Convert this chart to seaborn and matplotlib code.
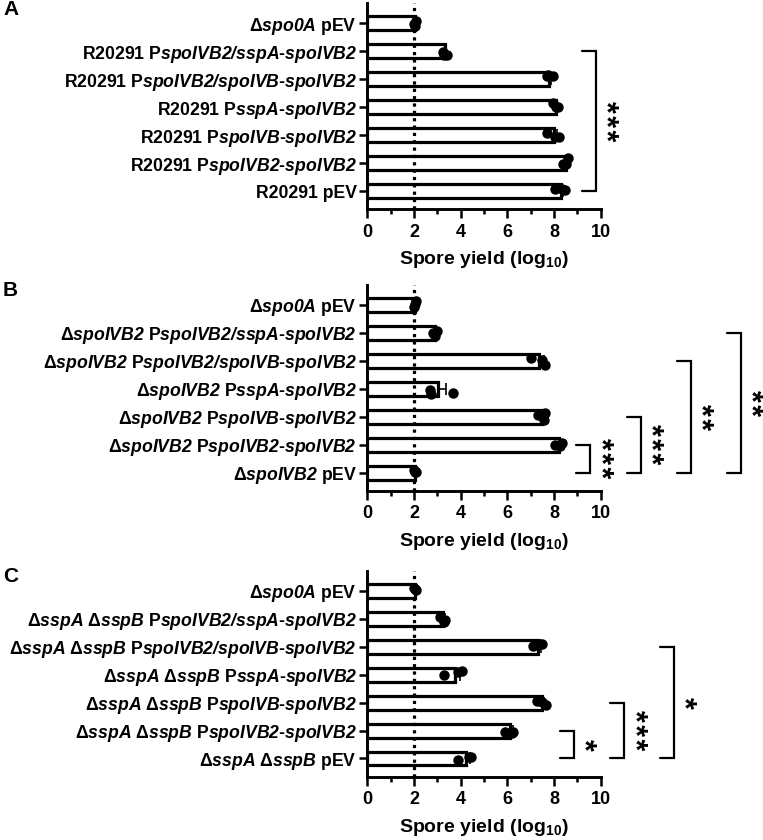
import numpy as np
import pandas as pd
import matplotlib
matplotlib.use("Agg")
import matplotlib.pyplot as plt
import seaborn as sns

sns.set_style("ticks")
plt.rcParams["font.family"] = ["Liberation Sans", "DejaVu Sans"]
plt.rcParams["font.weight"] = "bold"
plt.rcParams["axes.labelweight"] = "bold"
plt.rcParams["text.color"] = "black"
plt.rcParams["axes.labelcolor"] = "black"
plt.rcParams["axes.edgecolor"] = "black"
plt.rcParams["xtick.color"] = "black"
plt.rcParams["ytick.color"] = "black"
plt.rcParams["mathtext.fontset"] = "custom"
plt.rcParams["mathtext.rm"] = "Liberation Sans:bold"
plt.rcParams["mathtext.bf"] = "Liberation Sans:bold"
# gene names: bold italic, digits included
plt.rcParams["mathtext.sf"] = "Liberation Sans:italic:bold"

# ---- data (log10 spore yield, 3 replicates per strain) ----
labels_a = [
    r"Δ$\mathsf{spo0A}$ pEV",
    r"R20291 P$\mathsf{spoIVB2/sspA}$-$\mathsf{spoIVB2}$",
    r"R20291 P$\mathsf{spoIVB2/spoIVB}$-$\mathsf{spoIVB2}$",
    r"R20291 P$\mathsf{sspA}$-$\mathsf{spoIVB2}$",
    r"R20291 P$\mathsf{spoIVB}$-$\mathsf{spoIVB2}$",
    r"R20291 P$\mathsf{spoIVB2}$-$\mathsf{spoIVB2}$",
    "R20291 pEV",
]
values_a = [
    [2.0, 2.05, 2.1],
    [3.25, 3.4, 3.3],
    [7.7, 7.95, 7.75],
    [8.1, 7.95, 8.15],
    [8.05, 7.7, 8.2],
    [8.5, 8.6, 8.4],
    [8.35, 8.45, 8.05],
]

labels_b = [
    r"Δ$\mathsf{spo0A}$ pEV",
    r"Δ$\mathsf{spoIVB2}$ P$\mathsf{spoIVB2/sspA}$-$\mathsf{spoIVB2}$",
    r"Δ$\mathsf{spoIVB2}$ P$\mathsf{spoIVB2/spoIVB}$-$\mathsf{spoIVB2}$",
    r"Δ$\mathsf{spoIVB2}$ P$\mathsf{sspA}$-$\mathsf{spoIVB2}$",
    r"Δ$\mathsf{spoIVB2}$ P$\mathsf{spoIVB}$-$\mathsf{spoIVB2}$",
    r"Δ$\mathsf{spoIVB2}$ P$\mathsf{spoIVB2}$-$\mathsf{spoIVB2}$",
    r"Δ$\mathsf{spoIVB2}$ pEV",
]
values_b = [
    [2.0, 2.05, 2.1],
    [2.8, 2.9, 3.0],
    [7.0, 7.5, 7.6],
    [2.75, 2.7, 3.68],
    [7.55, 7.3, 7.6],
    [8.25, 8.05, 8.35],
    [2.0, 2.05, 2.1],
]

labels_c = [
    r"Δ$\mathsf{spo0A}$ pEV",
    r"Δ$\mathsf{sspA}$ Δ$\mathsf{sspB}$ P$\mathsf{spoIVB2/sspA}$-$\mathsf{spoIVB2}$",
    r"Δ$\mathsf{sspA}$ Δ$\mathsf{sspB}$ P$\mathsf{spoIVB2/spoIVB}$-$\mathsf{spoIVB2}$",
    r"Δ$\mathsf{sspA}$ Δ$\mathsf{sspB}$ P$\mathsf{sspA}$-$\mathsf{spoIVB2}$",
    r"Δ$\mathsf{sspA}$ Δ$\mathsf{sspB}$ P$\mathsf{spoIVB}$-$\mathsf{spoIVB2}$",
    r"Δ$\mathsf{sspA}$ Δ$\mathsf{sspB}$ P$\mathsf{spoIVB2}$-$\mathsf{spoIVB2}$",
    r"Δ$\mathsf{sspA}$ Δ$\mathsf{sspB}$ pEV",
]
values_c = [
    [2.0, 2.05, 2.1],
    [3.3, 3.35, 3.1],
    [7.4, 7.1, 7.5],
    [3.9, 3.3, 4.05],
    [7.5, 7.25, 7.65],
    [6.2, 5.9, 6.25],
    [4.35, 3.9, 4.45],
]

# significance brackets: (first row, last row, stars)
brackets_a = [(1, 6, "***")]
brackets_b = [(5, 6, "***"), (4, 6, "***"), (2, 6, "**"), (1, 6, "**")]
brackets_c = [(5, 6, "*"), (4, 6, "***"), (2, 6, "*")]

panels = [
    ("A", labels_a, values_a, brackets_a, 9.2, 0.7508),
    ("B", labels_b, values_b, brackets_b, 8.96, 0.4158),
    ("C", labels_c, values_c, brackets_c, 8.26, 0.0754),
]

np.random.seed(3)
fig = plt.figure(figsize=(7.63, 8.4), dpi=100)

for letter, labels, values, brackets, br_start, bottom in panels:
    ax = fig.add_axes([0.4814, bottom, 0.3059, 0.2452])
    df = pd.DataFrame(
        [(lab, v) for lab, vals in zip(labels, values) for v in vals],
        columns=["strain", "yield"],
    )

    sns.barplot(data=df, x="yield", y="strain", order=labels, errorbar=None,
                color="white", edgecolor="black", linewidth=2.3, width=0.5,
                saturation=1, ax=ax, zorder=2)

    # one-sided SEM error bars
    stats = df.groupby("strain", sort=False)["yield"].agg(["mean", "sem"]).reindex(labels)
    ypos = np.arange(len(labels))
    ax.errorbar(stats["mean"], ypos, xerr=[np.zeros(len(labels)), stats["sem"]],
                fmt="none", ecolor="black", elinewidth=1.2, capsize=4,
                capthick=1.2, zorder=3)

    ax.axvline(2, color="black", lw=2.3, ls=(0, (1, 1.3)), zorder=4)

    sns.stripplot(data=df, x="yield", y="strain", order=labels, color="black",
                  size=7.5, jitter=0.18, ax=ax, zorder=5)

    ax.set_xlim(0, 10)
    ax.set_ylim(6.65, -0.72)
    ax.set_xticks(np.arange(0, 11, 2))
    ax.set_xticks(np.arange(1, 10, 2), minor=True)
    ax.tick_params(axis="x", which="major", length=6.5, width=1.8, labelsize=13, pad=4)
    ax.tick_params(axis="x", which="minor", length=3.5, width=1.8)
    ax.tick_params(axis="y", which="major", length=5.5, width=1.8, labelsize=12.7, pad=2)
    ax.set_xlabel(r"Spore yield (log$_{10}$)", fontsize=14, labelpad=6)
    ax.set_ylabel("")
    for lbl in ax.get_yticklabels():
        lbl.set_fontweight("bold")
    sns.despine(ax=ax)
    for side in ["left", "bottom"]:
        ax.spines[side].set_linewidth(2.1)

    # brackets
    for i, (r1, r2, stars) in enumerate(brackets):
        x0 = br_start + 2.15 * i
        x1 = x0 + 0.6
        ax.plot([x0, x1, x1, x0], [r1, r1, r2, r2], color="black", lw=1.6,
                clip_on=False, solid_joinstyle="miter")
        ax.text(x1 + 0.36, (r1 + r2) / 2, "\u200a".join(stars), rotation=-90,
                ha="center", va="center", fontsize=22, fontweight="bold",
                clip_on=False)

    fig.text(0.004, bottom + 0.2452 + 0.004, letter, fontsize=15,
             fontweight="bold", ha="left", va="top")

fig.savefig("out.png", dpi=100)
